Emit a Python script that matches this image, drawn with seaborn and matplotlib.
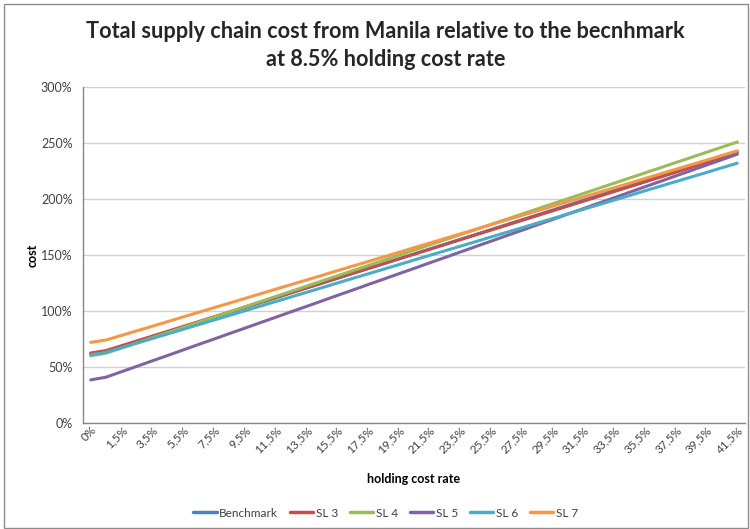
import matplotlib
matplotlib.use("Agg")
import matplotlib.pyplot as plt
from matplotlib.lines import Line2D
from matplotlib.patches import Rectangle
from matplotlib.ticker import FuncFormatter, FixedLocator
import numpy as np
import pandas as pd
import seaborn as sns

# Holding cost rates (%) on the category axis
rates = [0, 0.5, 1.5, 2.5, 3.5, 4.5, 5.5, 6.5, 7.5, 8.5, 9.5, 10.5, 11.5, 12.5,
         13.5, 14.5, 15.5, 16.5, 17.5, 18.5, 19.5, 20.5, 21.5, 22.5, 23.5, 24.5,
         25.5, 26.5, 27.5, 28.5, 29.5, 30.5, 31.5, 32.5, 33.5, 34.5, 35.5, 36.5,
         37.5, 38.5, 39.5, 40.5, 41.5]

# Total supply chain cost relative to the benchmark (%)
benchmark = [61.5, 63.7, 68.0, 72.4, 76.8, 81.1, 85.5, 89.8, 94.2, 98.6, 102.9,
             107.3, 111.6, 116.0, 120.4, 124.7, 129.1, 133.5, 137.8, 142.2,
             146.5, 150.9, 155.3, 159.6, 164.0, 168.3, 172.7, 177.1, 181.4,
             185.8, 190.1, 194.5, 198.9, 203.2, 207.6, 212.0, 216.3, 220.7,
             225.0, 229.4, 233.8, 238.1, 242.5]
sl3 = [62.5, 64.7, 69.0, 73.3, 77.6, 81.9, 86.2, 90.5, 94.8, 99.1, 103.4, 107.7,
       112.0, 116.3, 120.6, 124.9, 129.2, 133.5, 137.8, 142.1, 146.4, 150.7,
       155.0, 159.3, 163.6, 167.9, 172.2, 176.5, 180.8, 185.1, 189.4, 193.7,
       198.0, 202.3, 206.6, 210.9, 215.2, 219.5, 223.8, 228.1, 232.4, 236.7,
       241.0]
sl4 = [60.0, 62.3, 66.9, 71.5, 76.1, 80.7, 85.3, 89.9, 94.5, 99.1, 103.7, 108.3,
       112.9, 117.5, 122.1, 126.7, 131.3, 135.9, 140.5, 145.1, 149.7, 154.3,
       158.9, 163.5, 168.1, 172.7, 177.3, 181.9, 186.5, 191.1, 195.7, 200.3,
       204.9, 209.5, 214.1, 218.7, 223.3, 227.9, 232.5, 237.1, 241.7, 246.3,
       250.9]
sl5 = [38.5, 40.9, 45.8, 50.6, 55.5, 60.3, 65.2, 70.1, 74.9, 79.8, 84.6, 89.5,
       94.3, 99.2, 104.0, 108.9, 113.8, 118.6, 123.5, 128.3, 133.2, 138.0,
       142.9, 147.7, 152.6, 157.5, 162.3, 167.2, 172.0, 176.9, 181.7, 186.6,
       191.4, 196.3, 201.1, 206.0, 210.9, 215.7, 220.6, 225.4, 230.3, 235.1,
       240.0]
sl6 = [61.0, 63.1, 67.2, 71.3, 75.4, 79.5, 83.7, 87.8, 91.9, 96.0, 100.1, 104.3,
       108.4, 112.5, 116.6, 120.7, 124.9, 129.0, 133.1, 137.2, 141.3, 145.5,
       149.6, 153.7, 157.8, 161.9, 166.1, 170.2, 174.3, 178.4, 182.5, 186.7,
       190.8, 194.9, 199.0, 203.1, 207.3, 211.4, 215.5, 219.6, 223.7, 227.9,
       232.0]
sl7 = [72.0, 74.1, 78.2, 82.3, 86.4, 90.5, 94.7, 98.8, 102.9, 107.0, 111.1,
       115.3, 119.4, 123.5, 127.6, 131.7, 135.9, 140.0, 144.1, 148.2, 152.3,
       156.5, 160.6, 164.7, 168.8, 172.9, 177.1, 181.2, 185.3, 189.4, 193.5,
       197.7, 201.8, 205.9, 210.0, 214.1, 218.3, 222.4, 226.5, 230.6, 234.7,
       238.9, 243.0]

series_names = ["Benchmark", "SL 3", "SL 4", "SL 5", "SL 6", "SL 7"]
series_values = [benchmark, sl3, sl4, sl5, sl6, sl7]
colors = ["#4F81BD", "#C0504D", "#9BBB59", "#8064A2", "#4BACC6", "#F79646"]

rate_labels = [f"{r:g}%".replace(".", ",") for r in rates]

rows = []
for name, vals in zip(series_names, series_values):
    for i, v in enumerate(vals):
        rows.append({"pos": i, "cost": v, "series": name})
df = pd.DataFrame(rows)

sns.set_theme(style="white")
plt.rcParams["font.family"] = ["Lato", "DejaVu Sans"]

fig = plt.figure(figsize=(7.5, 5.29), dpi=100)
ax = fig.add_axes([83 / 750, 1 - 423 / 529, (745 - 83) / 750, (423 - 87) / 529])

sns.lineplot(data=df, x="pos", y="cost", hue="series", hue_order=series_names,
             palette=colors, linewidth=2.2, ax=ax, legend=False)

ax.set_xlim(-0.5, len(rates) - 0.5)
ax.set_ylim(0, 300)

# y axis
ax.set_yticks(np.arange(0, 301, 50))
ax.yaxis.set_major_formatter(FuncFormatter(lambda v, _: f"{v:.0f}%"))
ax.grid(axis="y", color="#D0D0D0", linewidth=1.0)
ax.grid(axis="x", visible=False)

# x axis: tick marks between categories, labels on every other category
ax.xaxis.set_major_locator(FixedLocator(np.arange(-0.5, len(rates), 1.0)))
ax.xaxis.set_major_formatter(FuncFormatter(lambda v, _: ""))
label_pos = list(range(0, len(rates), 2))
ax.xaxis.set_minor_locator(FixedLocator(label_pos))
ax.set_xticklabels([rate_labels[i] for i in label_pos], minor=True,
                   rotation=45, ha="right", rotation_mode="anchor")
ax.tick_params(axis="x", which="major", direction="out", length=4,
               color="#868686", width=1)
ax.tick_params(axis="x", which="minor", length=0, pad=1,
               labelsize=8.5, labelcolor="#404040")
ax.tick_params(axis="y", which="major", direction="out", length=4,
               color="#868686", width=1, labelsize=9, labelcolor="#404040")

for side in ["top", "right"]:
    ax.spines[side].set_visible(False)
for side in ["left", "bottom"]:
    ax.spines[side].set_color("#868686")
    ax.spines[side].set_linewidth(1)

ax.set_xlabel("holding cost rate", fontsize=9, fontweight="bold",
              color="black", labelpad=13)
ax.set_ylabel("cost", fontsize=9, fontweight="bold", color="black",
              labelpad=2)

fig.text(0.514, 0.941, "Total supply chain cost from Manila relative to the becnhmark",
         ha="center", va="center", fontsize=15.6, fontweight="bold")
fig.text(0.514, 0.888, "at 8.5% holding cost rate",
         ha="center", va="center", fontsize=15.6, fontweight="bold")

handles = [Line2D([0], [0], color=c, linewidth=2.5) for c in colors]
fig.legend(handles, series_names, loc="center", bbox_to_anchor=(0.514, 0.03),
           ncol=6, frameon=False, fontsize=8.5, handlelength=2.0,
           handletextpad=0.2, columnspacing=1.0, labelcolor="#404040")

fig.patches.append(Rectangle((4 / 750, 1 / 529), 744 / 750, 524 / 529,
                             transform=fig.transFigure, fill=False,
                             edgecolor="#8C8C8C", linewidth=1.0))

fig.savefig("out.png", dpi=100)
